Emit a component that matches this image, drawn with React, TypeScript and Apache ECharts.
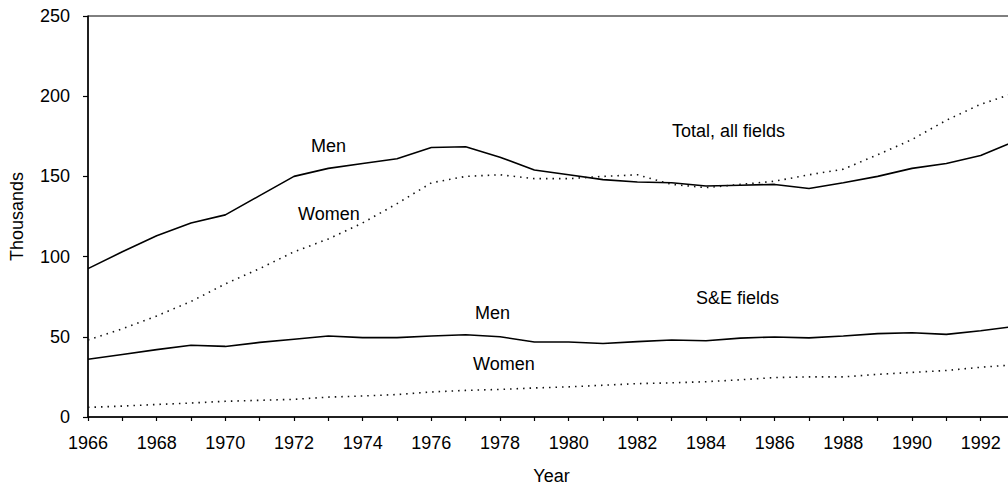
import React, { useEffect, useRef } from "react";
import * as echarts from "echarts";

const years = [1966, 1967, 1968, 1969, 1970, 1971, 1972, 1973, 1974, 1975, 1976, 1977, 1978, 1979, 1980, 1981, 1982, 1983, 1984, 1985, 1986, 1987, 1988, 1989, 1990, 1991, 1992, 1993];
const totalMen = [92.5, 103, 113, 121, 126, 138, 150, 155, 158, 161, 168, 168.5, 162, 154, 151, 148, 146.5, 146, 144, 144.5, 145, 142.5, 146, 150, 155, 158, 163, 172];
const totalWomen = [48, 55, 63, 72, 83, 92.5, 103, 111, 121, 133, 146, 150, 151, 148.6, 148.6, 150, 151, 145, 143, 145, 147, 151, 154.5, 163.5, 173, 185, 195, 202];
const seMen = [36, 39, 42, 44.7, 44, 46.5, 48.5, 50.5, 49.5, 49.5, 50.5, 51.3, 50, 46.8, 46.8, 45.8, 47, 48, 47.5, 49.2, 49.9, 49.3, 50.5, 52, 52.5, 51.5, 53.8, 56.5];
const seWomen = [6, 6.8, 7.8, 8.7, 9.8, 10.4, 11, 12.4, 13.1, 14, 15.6, 16.6, 17.2, 18.1, 18.8, 19.8, 20.8, 21.3, 22, 23.2, 24.6, 25, 25, 26.6, 27.8, 29, 31, 32.6];
const yTicks = [0, 50, 100, 150, 200, 250];

const FONT = '"Liberation Sans", Arial, Helvetica, sans-serif';

export default function App() {
  const ref = useRef<HTMLDivElement>(null);
  useEffect(() => {
    document.body.style.margin = "0";
    const chart = echarts.init(ref.current!, null, { renderer: "svg" });
    const pts = (arr: number[]) => years.map((y, i) => [y, arr[i]]);
    const solid = { color: "#000", width: 1.6, type: "solid" as const };
    const dotted = { color: "#111", width: 1.6, type: [1.5, 5] as any };
    const label = (text: string, x: number, y: number) => ({
      type: "text",
      x,
      y,
      style: { text, fontSize: 18, fontFamily: FONT, fill: "#000", verticalAlign: "middle", align: "left" },
    });
    chart.setOption({
      animation: false,
      backgroundColor: "#fff",
      grid: { left: 87, right: 10, top: 16, bottom: 73, show: true, borderColor: "#000", borderWidth: 1 },
      xAxis: {
        type: "value",
        min: years[0],
        max: years[years.length - 1],
        interval: 1,
        name: "Year",
        nameLocation: "middle",
        nameGap: 50,
        nameTextStyle: { fontSize: 18, fontFamily: FONT, color: "#000" },
        axisLine: { lineStyle: { color: "#000", width: 1.5 } },
        axisTick: { length: 4, lineStyle: { color: "#000", width: 1.2 } },
        axisLabel: {
          fontSize: 18,
          fontFamily: FONT,
          color: "#000",
          margin: 17,
          formatter: (v: number) => (v % 2 === 0 && v < years[years.length - 1] ? String(v) : ""),
        },
        splitLine: { show: false },
      },
      yAxis: {
        type: "value",
        min: yTicks[0],
        max: yTicks[yTicks.length - 1],
        interval: 50,
        name: "Thousands",
        nameLocation: "middle",
        nameGap: 62,
        nameTextStyle: { fontSize: 18, fontFamily: FONT, color: "#000" },
        axisLine: { show: true, lineStyle: { color: "#000", width: 1.5 } },
        axisTick: { show: true, length: 5, lineStyle: { color: "#000", width: 1.2 } },
        axisLabel: { fontSize: 18, fontFamily: FONT, color: "#000", margin: 18 },
        splitLine: { show: false },
      },
      series: [
        { name: "Total Men", type: "line", data: pts(totalMen), showSymbol: false, lineStyle: solid },
        { name: "Total Women", type: "line", data: pts(totalWomen), showSymbol: false, lineStyle: dotted },
        { name: "S&E Men", type: "line", data: pts(seMen), showSymbol: false, lineStyle: solid },
        { name: "S&E Women", type: "line", data: pts(seWomen), showSymbol: false, lineStyle: dotted },
      ],
      graphic: [
        label("Men", 311, 146),
        label("Women", 298, 214),
        label("Total, all fields", 672, 131),
        label("Men", 475, 313),
        label("S&E fields", 696, 298),
        label("Women", 473, 364),
      ],
    });
    return () => chart.dispose();
  }, []);
  return (
    <div style={{ width: 1008, height: 490, overflow: "hidden", position: "relative" }}>
      <div ref={ref} style={{ width: 1025, height: 490 }} />
    </div>
  );
}
